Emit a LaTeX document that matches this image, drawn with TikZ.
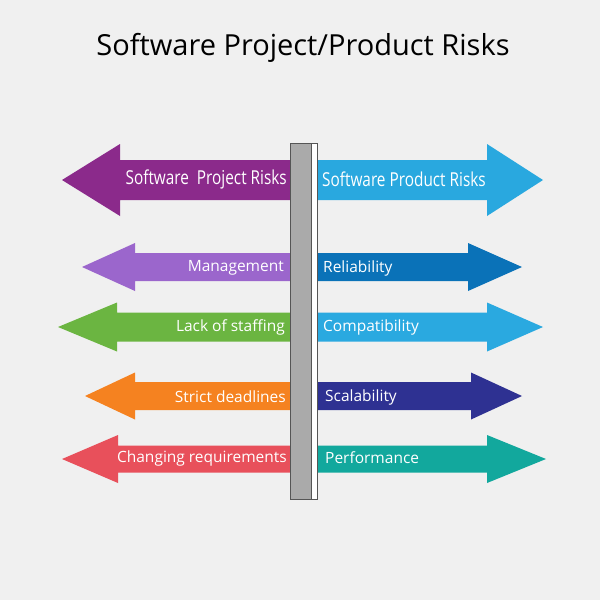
\documentclass[tikz,border=0pt]{standalone}
\usepackage{fontspec}
\setmainfont{Open Sans}
\newfontfamily\condfont{Open Sans}[FakeStretch=0.80]
\definecolor{bg}{HTML}{F0F0F0}
\definecolor{cPurple}{HTML}{8B2A8B}
\definecolor{cCyan}{HTML}{29A8DF}
\definecolor{cLav}{HTML}{9B66CC}
\definecolor{cBlue}{HTML}{0A72B8}
\definecolor{cGreen}{HTML}{6BB541}
\definecolor{cCompat}{HTML}{2AA9E0}
\definecolor{cOrange}{HTML}{F58220}
\definecolor{cNavy}{HTML}{2E3192}
\definecolor{cRed}{HTML}{E8505B}
\definecolor{cTeal}{HTML}{12A89D}
\definecolor{postgray}{HTML}{AAAAAA}
\definecolor{postline}{HTML}{555555}
% #1 colour, #2 tip x, #3 head base x, #4 inner end x, #5 y centre, #6 shaft half, #7 head half
\newcommand\myLarrow[7]{%
  \fill[#1] (#2,#5) -- (#3,#5-#7) -- (#3,#5-#6) -- (#4,#5-#6) -- (#4,#5+#6) -- (#3,#5+#6) -- (#3,#5+#7) -- cycle;}
\newcommand\myRarrow[7]{%
  \fill[#1] (#2,#5) -- (#3,#5-#7) -- (#3,#5-#6) -- (#4,#5-#6) -- (#4,#5+#6) -- (#3,#5+#6) -- (#3,#5+#7) -- cycle;}
\tikzset{
  lbl/.style={text=white, font=\fontsize{15.5}{17}\selectfont, inner sep=0pt},
  toplbl/.style={text=white, font=\condfont\fontsize{19.2}{21}\selectfont, inner sep=0pt},
}
\begin{document}
\begin{tikzpicture}[x=1pt,y=-1pt]
\fill[bg] (0,0) rectangle (600,600);
\useasboundingbox (0,0) rectangle (600,600);
\node[font=\fontsize{29}{32}\selectfont, text=black, inner sep=0pt] (title) at (303,48) {Software Project/Product Risks};
% top row
\myLarrow{cPurple}{62}{120}{292}{180}{20}{36}
\myRarrow{cCyan}{543}{487}{314}{180}{20}{36}
% row 2
\myLarrow{cLav}{82}{135}{292}{267}{14}{24}
\myRarrow{cBlue}{522}{468}{314}{267}{14}{24}
% row 3
\myLarrow{cGreen}{58}{117}{292}{327}{14.5}{24.5}
\myRarrow{cCompat}{543}{487}{314}{327}{14.5}{24.5}
% row 4
\myLarrow{cOrange}{85}{135}{292}{396}{14}{23.5}
\myRarrow{cNavy}{522}{471}{314}{396}{14}{23.5}
% row 5
\myLarrow{cRed}{62}{118}{292}{459}{13.5}{24}
\myRarrow{cTeal}{546}{487}{314}{459}{13.5}{24}
% post
\draw[postline, fill=postgray, line width=0.9pt] (290,143) rectangle (311,499);
\draw[postline, fill=white, line width=0.9pt] (311,143) rectangle (317,499);
% labels
\node[toplbl, anchor=east] (l1) at (287,179) {Software\ \ Project Risks};
\node[toplbl, anchor=west] (r1) at (322,179) {Software Product Risks};
\node[lbl, anchor=east] (l2) at (284,268) {Management};
\node[lbl, anchor=west] (r2) at (323,268) {Reliability};
\node[lbl, anchor=east] (l3) at (285,327) {Lack of staffing};
\node[lbl, anchor=west] (r3) at (323,327) {Compatibility};
\node[lbl, anchor=east] (l4) at (286,397) {Strict deadlines};
\node[lbl, anchor=west] (r4) at (325,397) {Scalability};
\node[lbl, anchor=east] (l5) at (287,458) {Changing requirements};
\node[lbl, anchor=west] (r5) at (325,458) {Performance};
\end{tikzpicture}
\end{document}
